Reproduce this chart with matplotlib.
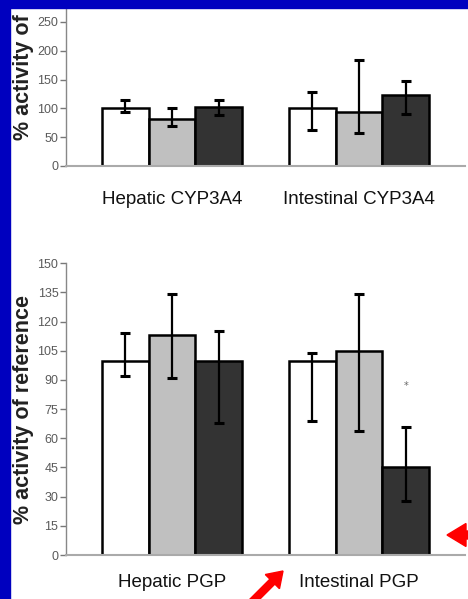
import numpy as np
import matplotlib
matplotlib.use("Agg")
import matplotlib.pyplot as plt
from matplotlib.patches import Rectangle, FancyArrow

# mean activity (% of reference) with lower / upper error bar ends
cyp_groups = ["Hepatic CYP3A4", "Intestinal CYP3A4"]
cyp_mean = [[100, 82, 102], [100, 94, 124]]
cyp_low = [[94, 69, 88], [62, 58, 90]]
cyp_high = [[115, 101, 114], [128, 184, 147]]

pgp_groups = ["Hepatic PGP", "Intestinal PGP"]
pgp_mean = [[100, 113, 100], [100, 105, 45]]
pgp_low = [[92, 91, 68], [69, 64, 28]]
pgp_high = [[114, 134, 115], [104, 134, 66]]

bar_colors = ["white", "#c0c0c0", "#333333"]
W, H = 468, 599
sans = ["Liberation Sans", "DejaVu Sans"]

fig = plt.figure(figsize=(W / 100, H / 100), dpi=100)
fig.patch.set_facecolor("white")


def px_axes(left, top, right, bottom):
    return fig.add_axes([left / W, 1 - bottom / H, (right - left) / W, (bottom - top) / H])


def draw_panel(ax, groups, means, lows, highs, ymax, step, label_pad):
    for g in range(len(groups)):
        for k in range(3):
            x = g * 4 + k - 1
            m = means[g][k]
            ax.bar(x, m, width=1.0, color=bar_colors[k], edgecolor="black", linewidth=1.8, zorder=2)
            ax.errorbar(x, m, yerr=[[m - lows[g][k]], [highs[g][k] - m]], fmt="none",
                        ecolor="black", elinewidth=1.6, capsize=3.5, capthick=2.2, zorder=3)
    ax.set_xlim(2 - 4.27, 2 + 4.27)
    ax.set_ylim(0, ymax)
    ax.set_yticks(np.arange(0, min(ymax, 250) + 1, step))
    ax.set_xticks([0, 4])
    ax.set_xticklabels(groups, family=sans, fontsize=13.5, color="#111111")
    ax.tick_params(axis="x", length=0, pad=label_pad)
    ax.tick_params(axis="y", length=4, width=1, color="#777777", labelcolor="#5a5a5a",
                   labelsize=9, pad=1.5)
    for t in ax.get_yticklabels():
        t.set_family(sans)
    for s in ["top", "right"]:
        ax.spines[s].set_visible(False)
    ax.spines["left"].set_color("#888888")
    ax.spines["bottom"].set_color("#aaaaaa")
    ax.spines["left"].set_linewidth(1)
    ax.spines["bottom"].set_linewidth(1.5)


# upper panel runs under the top border
ax1 = px_axes(66, 8, 465, 166)
draw_panel(ax1, cyp_groups, cyp_mean, cyp_low, cyp_high, 158 / 0.576, 50, 18)

ax2 = px_axes(66, 263.3, 465, 555)
draw_panel(ax2, pgp_groups, pgp_mean, pgp_low, pgp_high, 150, 15, 14)
ax2.text(5, 87, "*", ha="center", va="center", fontsize=7, color="#666666")

ylab = "% activity of reference"
fig.text(24 / W, 1 - 409 / H, ylab, rotation=90, ha="center", va="center",
         fontsize=15.5, fontweight="bold", family=sans, color="#222222")
fig.text(24 / W, 1 - 140 / H, ylab, rotation=90, ha="center", va="bottom",
         fontsize=15.5, fontweight="bold", family=sans, color="#222222")

# slide border
blue = "#0000bf"
fig.patches.append(Rectangle((0, 0), 10 / W, 1, transform=fig.transFigure,
                             color=blue, zorder=10))
fig.patches.append(Rectangle((0, 1 - 8 / H), 1, 8 / H, transform=fig.transFigure,
                             color=blue, zorder=10))

# red pointer arrows (inches from lower left)
fig.patches.append(FancyArrow(2.48, -0.07, 0.35, 0.35, width=0.07, head_width=0.2,
                              head_length=0.15, length_includes_head=True,
                              color="#ff0000", transform=fig.dpi_scale_trans, zorder=11))
fig.patches.append(FancyArrow(4.95, 0.64, -0.48, 0.0, width=0.08, head_width=0.23,
                              head_length=0.19, length_includes_head=True,
                              color="#ff0000", transform=fig.dpi_scale_trans, zorder=11))

fig.savefig("out.png", dpi=100)
